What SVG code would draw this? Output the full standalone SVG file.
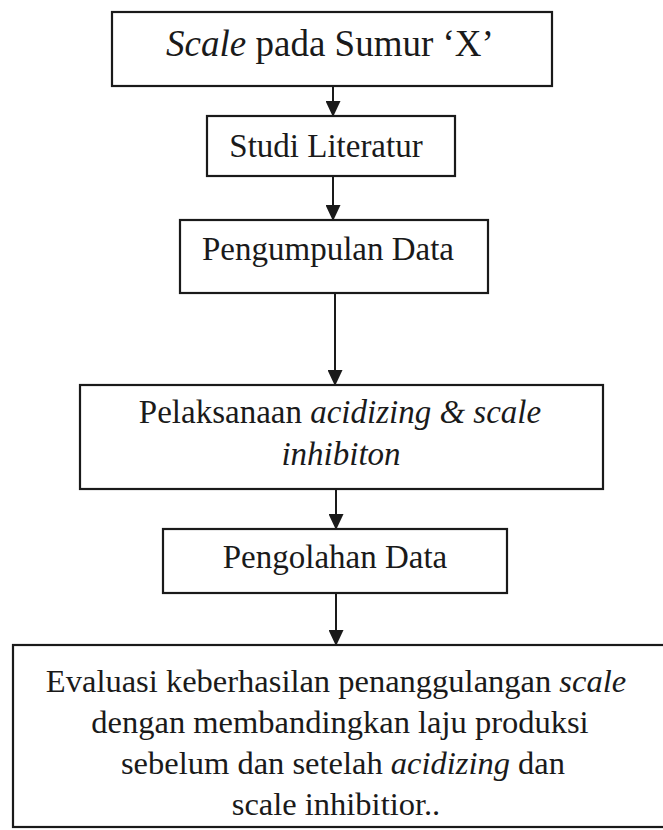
<svg xmlns="http://www.w3.org/2000/svg" width="663" height="830" viewBox="0 0 663 830">
<style>
.box{fill:#ffffff;stroke:#1a1a1a;stroke-width:2.2}
.t{font-family:"Liberation Serif","Times New Roman",serif;fill:#1a1a1a;text-anchor:middle;font-size:33px}
.b6{font-size:32.5px}
.i{font-style:italic}
.c{stroke:#1a1a1a;stroke-width:2;fill:none}
</style>
<defs>
<marker id="ah" markerWidth="16" markerHeight="15" refX="15" refY="7.5" orient="auto" markerUnits="userSpaceOnUse" viewBox="0 0 16 15">
<path d="M0,0 L16,7.5 L0,15 Z" fill="#1a1a1a"/>
</marker>
</defs>
<rect width="663" height="830" fill="#ffffff"/>
<g id="connectors">
<line class="c" x1="333" y1="87" x2="333" y2="116" marker-end="url(#ah)"/>
<line class="c" x1="333" y1="176" x2="333" y2="220" marker-end="url(#ah)"/>
<line class="c" x1="335" y1="293" x2="335" y2="385" marker-end="url(#ah)"/>
<line class="c" x1="336" y1="489" x2="336" y2="529" marker-end="url(#ah)"/>
<line class="c" x1="336" y1="593" x2="336" y2="645" marker-end="url(#ah)"/>
</g>
<g id="n1">
<rect class="box" x="112" y="12" width="440" height="74"/>
<text class="t" x="330" y="56" style="font-size:37px"><tspan class="i">Scale</tspan> pada Sumur ‘X’</text>
</g>
<g id="n2">
<rect class="box" x="207" y="116" width="248" height="60"/>
<text class="t" x="326" y="157">Studi Literatur</text>
</g>
<g id="n3">
<rect class="box" x="180" y="220" width="308" height="73"/>
<text class="t" x="328" y="260">Pengumpulan Data</text>
</g>
<g id="n4">
<rect class="box" x="80" y="385" width="523" height="104"/>
<text class="t" x="340" y="423">Pelaksanaan <tspan class="i">acidizing &amp; scale</tspan></text>
<text class="t i" x="341" y="465">inhibiton</text>
</g>
<g id="n5">
<rect class="box" x="163" y="529" width="344" height="64"/>
<text class="t" x="335" y="568">Pengolahan Data</text>
</g>
<g id="n6">
<rect class="box" x="13" y="645" width="660" height="182"/>
<text class="t b6" x="336" y="692">Evaluasi keberhasilan penanggulangan <tspan class="i">scale</tspan></text>
<text class="t b6" x="340" y="733">dengan membandingkan laju produksi</text>
<text class="t b6" x="343" y="774">sebelum dan setelah <tspan class="i">acidizing</tspan> dan</text>
<text class="t b6" x="336" y="815">scale inhibitior..</text>
</g>
</svg>
